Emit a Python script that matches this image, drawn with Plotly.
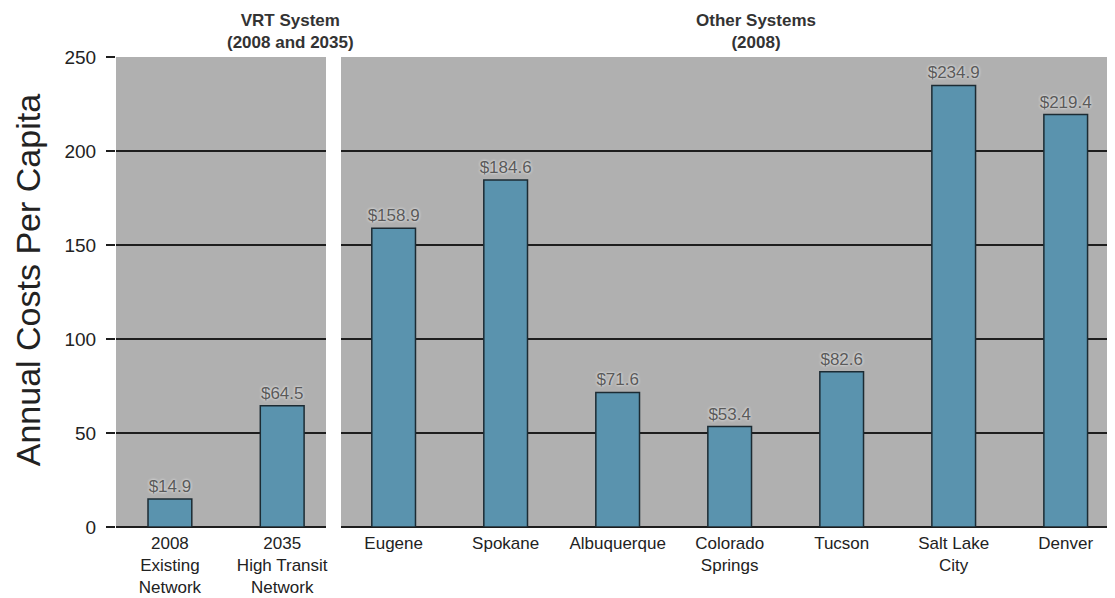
import plotly.graph_objects as go

# VRT panel
vrt_labels = ["2008<br>Existing<br>Network", "2035<br>High Transit<br>Network"]
vrt_costs = [14.9, 64.5]

# Other systems panel
city_labels = ["Eugene", "Spokane", "Albuquerque", "Colorado<br>Springs",
               "Tucson", "Salt Lake<br>City", "Denver"]
city_costs = [158.9, 184.6, 71.6, 53.4, 82.6, 234.9, 219.4]

y_ticks = [0, 50, 100, 150, 200, 250]

BG = "#b0b0b0"
BAR = "#5a93ae"
EDGE = "#1c2b33"
GRID = "#1e1e1e"
FONT = "Liberation Sans, Arial, sans-serif"

# the page body adds an 8px offset, so the figure is sized to fit the window
OFF = 8
W, H = 1115 - OFF, 598 - OFF
L, T, B = 116 - OFF, 57 - OFF, 71
PW = W - L


def px(x):
    # absolute window pixel -> paper fraction
    return (x - OFF - L) / PW


def bar_trace(x, y, xa, ya):
    return go.Bar(
        x=x, y=y, xaxis=xa, yaxis=ya,
        marker=dict(color=BAR, line=dict(color=EDGE, width=1.5)),
        text=[f"${v:.1f}" for v in y],
        textposition="outside",
        constraintext="none",
        textfont=dict(family=FONT, size=17, color="#5a5a5a",
                      shadow="0px 0px 3px white"),
        cliponaxis=False,
        showlegend=False,
        hoverinfo="skip",
    )


fig = go.Figure()
fig.add_trace(bar_trace(vrt_labels, vrt_costs, "x", "y"))
fig.add_trace(bar_trace(city_labels, city_costs, "x2", "y2"))

yax = dict(
    range=[0, 250], tickvals=y_ticks, automargin=False,
    showgrid=True, gridcolor=GRID, gridwidth=1.5,
    zeroline=True, zerolinecolor=GRID, zerolinewidth=1.5,
    showline=False, fixedrange=True,
)
xax = dict(
    type="category", showgrid=False, showline=False, ticks="",
    automargin=False, ticklabelstandoff=4,
    tickfont=dict(family=FONT, size=17, color="#222"),
)

fig.update_layout(
    width=W, height=H,
    margin=dict(l=L, r=0, t=T, b=B),
    paper_bgcolor="white",
    plot_bgcolor=BG,
    bargap=0.61,
    font=dict(family=FONT, color="#222"),
    xaxis=dict(domain=[0, px(326)], range=[-0.48, 1.39], **xax),
    xaxis2=dict(domain=[px(341), 1], range=[-0.47, 6.44], anchor="y2", **xax),
    yaxis=dict(ticks="outside", ticklen=9, tickwidth=1.5, tickcolor=GRID,
               ticklabelstandoff=6,
               tickfont=dict(family=FONT, size=19, color="#222"), **yax),
    yaxis2=dict(anchor="x2", matches="y", showticklabels=False, ticks="", **yax),
    annotations=[
        dict(text="<b>VRT System<br>(2008 and 2035)</b>", xref="paper", yref="paper",
             x=px(225), y=1, yanchor="bottom", yshift=3, showarrow=False,
             font=dict(family=FONT, size=17, color="#333")),
        dict(text="<b>Other Systems<br>(2008)</b>", xref="paper", yref="paper",
             x=px(756), y=1, yanchor="bottom", yshift=3, showarrow=False,
             font=dict(family=FONT, size=17, color="#333")),
        dict(text="Annual Costs Per Capita", xref="paper", yref="paper",
             x=px(28), y=0.525, textangle=-90, showarrow=False,
             xanchor="center", yanchor="middle",
             font=dict(family=FONT, size=34, color="#222")),
    ],
)

fig.write_html("out.html")
